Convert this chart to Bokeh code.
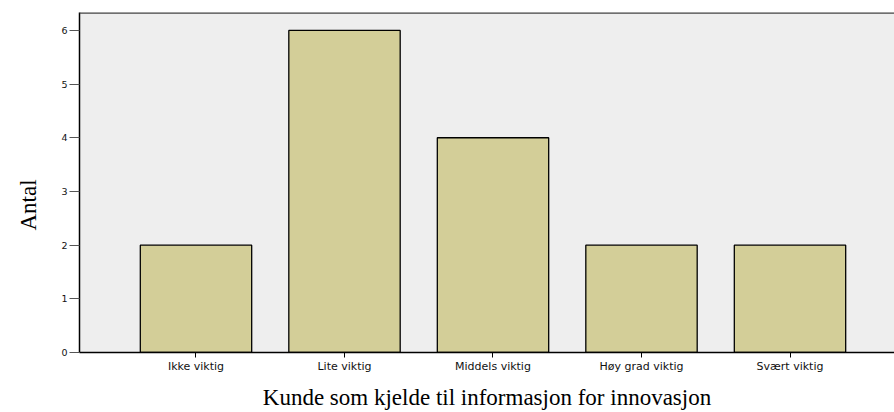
from bokeh.plotting import figure
from bokeh.models import ColumnDataSource, FixedTicker, Range1d, Span, Title
from bokeh.embed import file_html
from bokeh.resources import INLINE

categories = ["Ikke viktig", "Lite viktig", "Middels viktig", "Høy grad viktig", "Svært viktig"]
counts = [2, 6, 4, 2, 2]
y_ticks = [0, 1, 2, 3, 4, 5, 6]
x_title = "Kunde som kjelde til informasjon for innovasjon"
y_title = "Antal"

xs = list(range(len(categories)))
src = ColumnDataSource(dict(x=xs, top=counts, name=categories))

x_start, x_end = -0.7845, 4.7037
y_start, y_end = 0, 6.333

p = figure(width=894, height=412, output_backend="svg", toolbar_location=None,
           x_range=Range1d(x_start, x_end), y_range=Range1d(y_start, y_end),
           min_border_left=79, min_border_right=0, min_border_top=12, min_border_bottom=58)

p.background_fill_color = "#EEEEEE"
p.border_fill_color = "white"
p.outline_line_color = None
p.xgrid.visible = False
p.ygrid.visible = False

p.vbar(x="x", top="top", width=0.75, bottom=0, source=src,
       fill_color="#D3CE98", line_color="black", line_width=1.3)

p.add_layout(Span(location=y_end, dimension="width", line_color="#444444", line_width=2.5))

# x axis
p.xaxis.ticker = FixedTicker(ticks=xs)
p.xaxis.major_label_overrides = {i: c for i, c in enumerate(categories)}
p.xaxis.major_tick_out = 5
p.xaxis.major_tick_in = 0
p.xaxis.minor_tick_line_color = None
p.xaxis.axis_line_color = "black"
p.xaxis.axis_line_width = 1.3
p.xaxis.major_tick_line_color = "black"
p.xaxis.major_label_text_font = "DejaVu Sans"
p.xaxis.major_label_text_font_size = "11px"
p.xaxis.major_label_text_color = "#111111"
p.xaxis.major_label_standoff = 2
p.xaxis.axis_label = x_title
p.xaxis.axis_label_text_font = "Liberation Serif"
p.xaxis.axis_label_text_font_size = "23px"
p.xaxis.axis_label_text_font_style = "normal"
p.xaxis.axis_label_text_color = "black"
p.xaxis.axis_label_standoff = 9

# y axis
p.yaxis.ticker = FixedTicker(ticks=y_ticks)
p.yaxis.major_tick_out = 10
p.yaxis.major_tick_in = 0
p.yaxis.minor_tick_line_color = None
p.yaxis.axis_line_color = "black"
p.yaxis.axis_line_width = 1.5
p.yaxis.major_tick_line_color = "#555555"
p.yaxis.major_label_text_font = "DejaVu Sans"
p.yaxis.major_label_text_font_size = "9.5px"
p.yaxis.major_label_text_color = "#111111"
p.yaxis.major_label_standoff = 2

# y title placed lower than centre, as in the reference
p.add_layout(Title(text=y_title, align="left", offset=122, standoff=31, vertical_align="top",
                   text_font="Liberation Serif", text_font_size="23px",
                   text_font_style="normal", text_color="black"), "left")

open("out.html", "w").write(file_html(p, INLINE))
